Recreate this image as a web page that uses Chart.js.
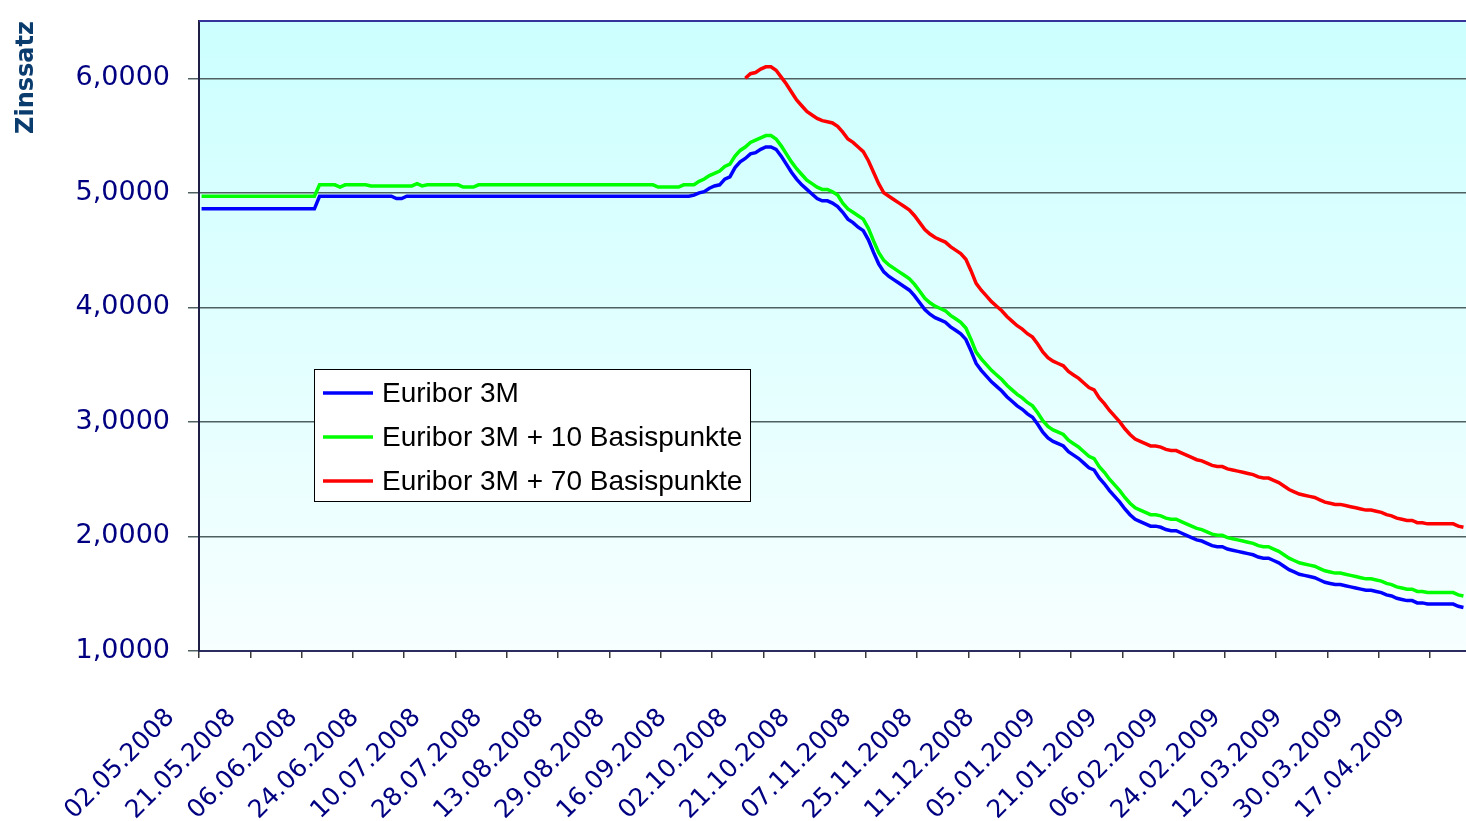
<!DOCTYPE html>
<html>
<head>
<meta charset="utf-8">
<script src="https://cdn.jsdelivr.net/npm/chart.js@4"></script>
<style>
html,body{margin:0;padding:0;background:#ffffff;}
#wrap{position:relative;width:1466px;height:821px;}
</style>
</head>
<body>
<div id="wrap"><canvas id="c"></canvas></div>
<script>
// ---- data ----
const tickLabels = ['02.05.2008','21.05.2008','06.06.2008','24.06.2008','10.07.2008','28.07.2008','13.08.2008','29.08.2008','16.09.2008','02.10.2008','21.10.2008','07.11.2008','25.11.2008','11.12.2008','05.01.2009','21.01.2009','06.02.2009','24.02.2009','12.03.2009','30.03.2009','17.04.2009'];
const labelStep = 12;      // a date label every 12 trading days
const tickMarkStep = 10;   // a tick mark every 10 trading days
const pointCount = 247;    // trading days shown

const seriesNames = ['Euribor 3M','Euribor 3M + 10 Basispunkte','Euribor 3M + 70 Basispunkte'];

const euribor = [
4.86,4.86,4.86,4.86,4.86,4.86,4.86,4.86,4.86,4.86,4.86,4.86,4.86,4.86,4.86,4.86,4.86,4.86,4.86,4.86,4.86,4.86,4.86,
4.97,4.97,4.97,4.97,4.97,4.97,4.97,4.97,4.97,4.97,4.97,4.97,4.97,4.97,4.97,
4.95,4.95,
4.97,4.97,4.97,4.97,4.97,4.97,4.97,4.97,4.97,4.97,4.97,4.97,4.97,4.97,4.97,4.97,4.97,4.97,4.97,4.97,4.97,4.97,4.97,4.97,4.97,4.97,4.97,4.97,
4.97,4.97,4.97,4.97,4.97,4.97,4.97,4.97,4.97,4.97,4.97,4.97,4.97,4.97,4.97,4.97,4.97,4.97,4.97,4.97,4.97,4.97,4.97,4.97,4.97,4.97,4.97,4.97,
4.98,5.00,5.01,5.04,5.06,5.07,5.12,5.14,5.22,5.27,5.30,5.34,5.35,5.38,5.40,5.40,5.38,5.32,5.25,5.18,5.12,5.07,5.03,4.99,
4.95,4.93,4.93,4.91,4.88,4.83,4.77,4.74,4.70,4.67,4.59,4.48,4.38,4.31,4.27,4.24,4.21,4.18,4.15,4.10,4.04,3.98,3.94,3.91,
3.89,3.87,3.83,3.80,3.77,3.72,3.62,3.51,3.45,3.40,3.35,3.31,3.27,3.22,3.18,3.14,3.11,3.07,3.04,2.98,2.91,2.86,2.83,2.81,
2.79,2.74,2.71,2.68,2.64,2.60,2.58,2.51,2.46,2.40,2.35,2.30,2.24,2.19,2.15,2.13,2.11,2.09,2.09,2.08,2.06,2.05,2.05,2.03,
2.01,1.99,1.97,1.96,1.94,1.92,1.91,1.91,1.89,1.88,1.87,1.86,1.85,1.84,1.82,1.81,1.81,1.79,1.77,1.74,1.71,1.69,1.67,1.66,
1.65,1.64,1.62,1.60,1.59,1.58,1.58,1.57,1.56,1.55,1.54,1.53,1.53,1.52,1.51,1.49,1.48,1.46,1.45,1.44,1.44,1.42,1.42,1.41,
1.41,1.41,1.41,1.41,1.41,1.39,1.38
];

const plus10 = [
4.97,4.97,4.97,4.97,4.97,4.97,4.97,4.97,4.97,4.97,4.97,4.97,4.97,4.97,4.97,4.97,4.97,4.97,4.97,4.97,4.97,4.97,4.97,
5.07,5.07,5.07,5.07,5.05,5.07,5.07,5.07,5.07,5.07,
5.06,5.06,5.06,5.06,5.06,5.06,5.06,5.06,5.06,5.08,5.06,
5.07,5.07,5.07,5.07,5.07,5.07,5.07,5.05,5.05,5.05,
5.07,5.07,5.07,5.07,5.07,5.07,5.07,5.07,5.07,5.07,5.07,5.07,5.07,5.07,5.07,5.07,5.07,5.07,5.07,5.07,5.07,5.07,5.07,5.07,5.07,5.07,5.07,5.07,5.07,5.07,5.07,5.07,5.07,5.07,5.07,
5.05,5.05,5.05,5.05,5.05,5.07,5.07,5.07,
5.10,5.12,5.15,5.17,5.19,5.23,5.25,5.32,5.37,5.40,5.44,5.46,5.48,5.50,5.50,5.47,5.41,5.34,5.27,5.21,5.16,5.11,5.08,
5.05,5.03,5.03,5.01,4.98,4.91,4.86,4.83,4.80,4.77,4.69,4.58,4.48,4.41,4.37,4.34,4.31,4.28,4.25,4.20,4.14,4.08,4.04,4.01,
3.99,3.97,3.93,3.90,3.87,3.82,3.72,3.61,3.55,3.50,3.45,3.41,3.37,3.32,3.28,3.24,3.21,3.17,3.14,3.08,3.01,2.96,2.93,2.91,
2.89,2.84,2.81,2.78,2.74,2.70,2.68,2.61,2.56,2.50,2.45,2.40,2.34,2.29,2.25,2.23,2.21,2.19,2.19,2.18,2.16,2.15,2.15,2.13,
2.11,2.09,2.07,2.06,2.04,2.02,2.01,2.01,1.99,1.98,1.97,1.96,1.95,1.94,1.92,1.91,1.91,1.89,1.87,1.84,1.81,1.79,1.77,1.76,
1.75,1.74,1.72,1.70,1.69,1.68,1.68,1.67,1.66,1.65,1.64,1.63,1.63,1.62,1.61,1.59,1.58,1.56,1.55,1.54,1.54,1.52,1.52,1.51,
1.51,1.51,1.51,1.51,1.51,1.49,1.48
];

const plus70Start = 106;   // first trading day of the +70 series
const plus70 = [
6.00,6.04,6.05,6.08,6.10,6.10,6.07,6.01,5.95,5.88,5.81,5.76,5.71,5.68,
5.65,5.63,5.62,5.61,5.58,5.53,5.47,5.44,5.40,5.36,5.28,5.18,5.08,5.00,4.97,4.94,4.91,4.88,4.85,4.80,4.74,4.68,4.64,4.61,
4.59,4.57,4.53,4.50,4.47,4.42,4.32,4.21,4.15,4.10,4.05,4.01,3.97,3.92,3.88,3.84,3.81,3.77,3.74,3.68,3.61,3.56,3.53,3.51,
3.49,3.44,3.41,3.38,3.34,3.30,3.28,3.21,3.16,3.10,3.05,3.00,2.94,2.89,2.85,2.83,2.81,2.79,2.79,2.78,2.76,2.75,2.75,2.73,
2.71,2.69,2.67,2.66,2.64,2.62,2.61,2.61,2.59,2.58,2.57,2.56,2.55,2.54,2.52,2.51,2.51,2.49,2.47,2.44,2.41,2.39,2.37,2.36,
2.35,2.34,2.32,2.30,2.29,2.28,2.28,2.27,2.26,2.25,2.24,2.23,2.23,2.22,2.21,2.19,2.18,2.16,2.15,2.14,2.14,2.12,2.12,2.11,
2.11,2.11,2.11,2.11,2.11,2.09,2.08
];

const yTicks = [1,2,3,4,5,6];
const yMin = 1;
const yMax = 6.5;

// ---- styling ----
const seriesColors = ['#0000FF','#00FF00','#FF0000'];
const toPoints = (arr, start) => arr.map((v, i) => ({x: i + start, y: v}));

const framePlugin = {
  id: 'frame',
  beforeDraw(chart) {
    const {ctx, chartArea: a} = chart;
    const g = ctx.createLinearGradient(0, a.top, 0, a.bottom);
    g.addColorStop(0, '#CCFFFF');
    g.addColorStop(1, '#F7FFFF');
    ctx.save();
    ctx.fillStyle = g;
    ctx.fillRect(a.left, a.top, a.right - a.left, a.bottom - a.top);
    ctx.restore();
  },
  afterDraw(chart) {
    const {ctx, chartArea: a} = chart;
    ctx.save();
    ctx.strokeStyle = '#34349a';
    ctx.lineWidth = 2;
    ctx.beginPath();
    ctx.moveTo(a.left, a.top);
    ctx.lineTo(a.right, a.top);
    ctx.stroke();
    // legend box
    const bx = 314.5, by = 369.5, bw = 436, bh = 132;
    ctx.fillStyle = '#ffffff';
    ctx.fillRect(bx, by, bw, bh);
    ctx.strokeStyle = '#000000';
    ctx.lineWidth = 1;
    ctx.strokeRect(bx, by, bw, bh);
    ctx.font = '28px "Liberation Sans", Arial, sans-serif';
    ctx.textBaseline = 'middle';
    ctx.textAlign = 'left';
    chart.data.datasets.forEach((ds, i) => {
      const y = 393 + i * 44;
      ctx.strokeStyle = ds.borderColor;
      ctx.lineWidth = 3.5;
      ctx.beginPath();
      ctx.moveTo(323, y);
      ctx.lineTo(373, y);
      ctx.stroke();
      ctx.fillStyle = '#000000';
      ctx.fillText(ds.label, 382, y + 1);
    });
    ctx.restore();
  }
};

new Chart(document.getElementById('c'), {
  type: 'line',
  data: {
    datasets: [
      {label: seriesNames[0], data: toPoints(euribor, 0), borderColor: seriesColors[0], borderWidth: 3.5, pointRadius: 0, tension: 0},
      {label: seriesNames[1], data: toPoints(plus10, 0), borderColor: seriesColors[1], borderWidth: 3.5, pointRadius: 0, tension: 0},
      {label: seriesNames[2], data: toPoints(plus70, plus70Start), borderColor: seriesColors[2], borderWidth: 3.5, pointRadius: 0, tension: 0}
    ]
  },
  options: {
    responsive: true,
    maintainAspectRatio: false,
    animation: false,
    layout: {padding: {top: 21, right: 0, bottom: 0, left: 0}},
    plugins: {legend: {display: false}, tooltip: {enabled: false}},
    scales: {
      x: {
        type: 'linear',
        min: -0.5,
        max: pointCount - 0.5,
        afterBuildTicks(s) {
          const t = [];
          for (let k = 0; k * tickMarkStep - 0.5 <= pointCount - 0.5; k++) t.push(k * tickMarkStep - 0.5);
          tickLabels.forEach((_, j) => t.push(j * labelStep));
          t.sort((a, b) => a - b);
          s.ticks = t.map(v => ({value: v}));
        },
        afterFit(s) { s.height = 170; s.paddingLeft = 0; s.paddingRight = 0; },
        ticks: {
          autoSkip: false,
          minRotation: 45,
          maxRotation: 45,
          labelOffset: -31,
          padding: 45,
          color: '#000080',
          font: {family: 'DejaVu Sans', size: 25},
          callback(v) {
            return (Number.isInteger(v) && v % labelStep === 0 && tickLabels[v / labelStep] !== undefined) ? tickLabels[v / labelStep] : '';
          }
        },
        grid: {
          drawOnChartArea: false,
          drawTicks: true,
          tickLength: 7,
          lineWidth: 1.5,
          color(ctx) {
            const v = ctx.tick ? ctx.tick.value : 0;
            return Number.isInteger(v) ? 'rgba(0,0,0,0)' : '#3a3a3a';
          }
        },
        border: {display: true, color: '#2b2b5e', width: 2}
      },
      y: {
        min: yMin,
        max: yMax,
        afterBuildTicks(s) { s.ticks = yTicks.map(v => ({value: v})); },
        afterFit(s) { s.width = 199; s.paddingTop = 0; s.paddingBottom = 0; },
        ticks: {
          color: '#000080',
          padding: 18,
          font: {family: 'DejaVu Sans', size: 27},
          callback(v) { return v.toFixed(4).replace('.', ','); }
        },
        grid: {color: '#4f6060', lineWidth: 1.5, tickLength: 11, drawTicks: true},
        border: {display: true, color: '#1e1e46', width: 2},
        title: {
          display: true,
          text: 'Zinssatz',
          align: 'end',
          color: '#0b3c6e',
          font: {family: 'DejaVu Sans', size: 24, weight: 'bold'},
          padding: {top: 12, bottom: 0}
        }
      }
    }
  },
  plugins: [framePlugin]
});
</script>
</body>
</html>
